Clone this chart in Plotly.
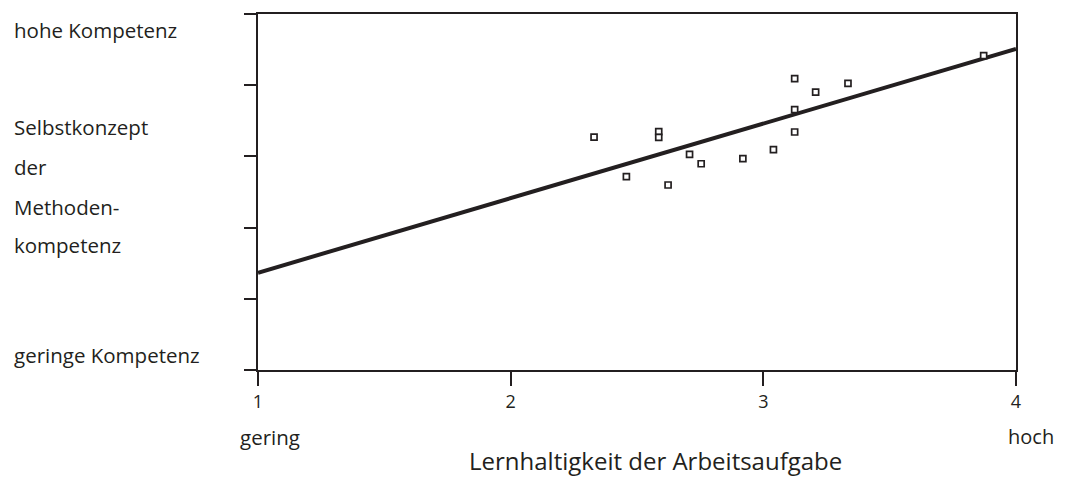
import plotly.graph_objects as go

# Data
x_vals = [2.33, 2.586, 2.586, 2.458, 2.623, 2.708, 2.754, 2.919, 3.04, 3.124, 3.124, 3.124, 3.207, 3.335, 3.872]
y_vals = [4.272, 4.347, 4.268, 3.715, 3.598, 4.029, 3.897, 3.968, 4.094, 5.091, 4.656, 4.343, 4.904, 5.027, 5.414]
fit_x = [1, 4]
fit_y = [2.366, 5.508]
x_ticks = [1, 2, 3, 4]
x_ticktext = ["1", "2", "3", "4"]
y_ticks = [1, 2, 3, 4, 5, 6]
left_labels = ["hohe Kompetenz", "Selbstkonzept", "der", "Methoden-", "kompetenz", "geringe Kompetenz"]
left_label_pos = [0.955, 0.683, 0.570, 0.458, 0.351, 0.042]

INK = "#231f20"
FONT = "Open Sans"

fig = go.Figure()
fig.add_trace(go.Scatter(x=fit_x, y=fit_y, mode="lines",
                         line=dict(color=INK, width=4), showlegend=False, hoverinfo="skip"))
fig.add_trace(go.Scatter(x=x_vals, y=y_vals, mode="markers",
                         marker=dict(symbol="square", size=6, color="white",
                                     line=dict(color=INK, width=1.7)),
                         showlegend=False))

fig.update_xaxes(range=[1, 4], tickvals=x_ticks, ticktext=x_ticktext,
                 showline=True, linecolor=INK, linewidth=2, mirror=True,
                 ticks="outside", ticklen=14, tickwidth=2, tickcolor=INK,
                 showgrid=False, zeroline=False,
                 tickfont=dict(family=FONT, size=18, color=INK))
fig.update_yaxes(range=[1, 6], tickvals=y_ticks, showticklabels=False,
                 showline=True, linecolor=INK, linewidth=2, mirror=True,
                 ticks="outside", ticklen=12, tickwidth=2, tickcolor=INK,
                 showgrid=False, zeroline=False)

for txt, yp in zip(left_labels, left_label_pos):
    fig.add_annotation(text=txt, xref="paper", yref="paper", x=-0.324, y=yp,
                       xanchor="left", yanchor="middle", showarrow=False,
                       font=dict(family=FONT, size=20.5, color=INK))

fig.add_annotation(text="gering", xref="x", yref="paper", x=1, y=-0.188,
                   xanchor="left", yanchor="middle", showarrow=False, xshift=-20,
                   font=dict(family=FONT, size=20.5, color=INK))
fig.add_annotation(text="hoch", xref="x", yref="paper", x=4, y=-0.188,
                   xanchor="left", yanchor="middle", showarrow=False, xshift=-10,
                   font=dict(family=FONT, size=20, color=INK))
fig.add_annotation(text="Lernhaltigkeit der Arbeitsaufgabe", xref="paper", yref="paper",
                   x=0.525, y=-0.253, xanchor="center", yanchor="middle", showarrow=False,
                   font=dict(family=FONT, size=24, color=INK))

fig.update_layout(width=1066, height=477,
                  margin=dict(l=258, r=50, t=14, b=107),
                  paper_bgcolor="white", plot_bgcolor="white",
                  font=dict(family=FONT, color=INK))

fig.write_html("out.html")
